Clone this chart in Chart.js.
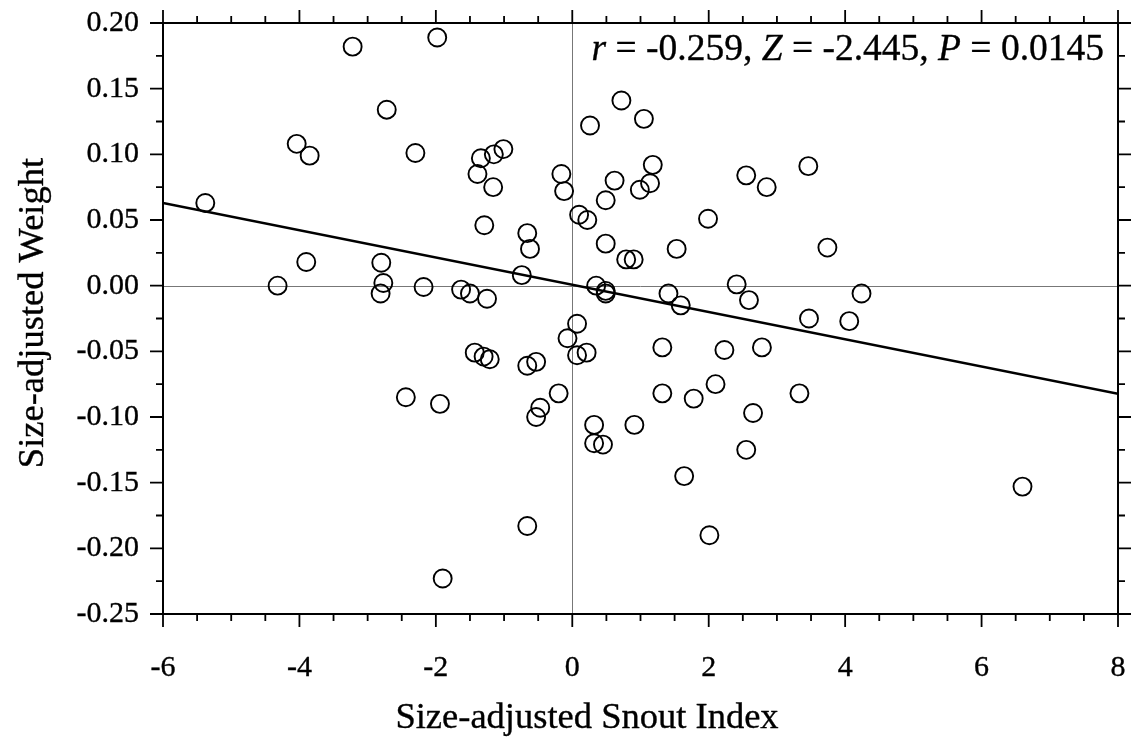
<!DOCTYPE html>
<html><head><meta charset="utf-8">
<script src="https://cdn.jsdelivr.net/npm/chart.js@4.4.1/dist/chart.umd.min.js"></script>
<style>html,body{margin:0;padding:0;background:#fff;}canvas{display:block;}</style>
</head><body>
<canvas id="c" width="1133" height="742"></canvas>
<script>
// ---- data ----
const snoutIndex = [
  -5.38, -4.32, -4.04, -3.85, -3.90, -3.22, -2.72, -2.80, -2.77, -2.81,
  -2.30, -2.18, -1.98, -1.63, -1.50, -1.25, -1.34, -1.15, -1.01, -1.39,
  -1.16, -1.29, -0.66, -0.62, -0.74, -0.16, -0.12, -2.44, -1.94, -1.90,
  -1.43, -1.30, -1.21, -0.66, -0.66, -0.53, -0.20, -0.47, -0.53, -0.07,
  0.07, 0.07, 0.21, 0.35, 0.49, 0.49, 1.41, 1.59, 2.41, 2.59,
  4.24, 3.47, 4.06, 1.32, 2.23, 2.78, 1.32, 1.78, 2.10, 3.33,
  2.65, 0.32, 0.91, 0.32, 0.45, 2.55, 1.64, 6.60, 2.01, 0.72,
  0.26, 1.05, 1.18, 0.62, 1.14, 0.99, 0.49, 0.10, 0.22, 1.99,
  0.49, 0.79, 0.90, 1.53, 2.55, 2.85, 3.46, 3.74
];
const weight = [
  0.063, 0.000, 0.108, 0.099, 0.018, 0.182, 0.134, 0.0175, 0.002, -0.006,
  0.101, -0.001, 0.189, -0.003, -0.006, -0.010, 0.097, 0.100, 0.104, 0.085,
  0.075, 0.046, 0.040, 0.028, 0.008, 0.085, 0.072, -0.085, -0.090, -0.223,
  -0.051, -0.054, -0.056, -0.183, -0.061, -0.058, -0.082, -0.093, -0.100, -0.040,
  -0.029, -0.053, -0.051, 0.000, -0.004, -0.006, -0.006, -0.015, 0.001, -0.011,
  -0.006, -0.025, -0.027, -0.047, -0.049, -0.047, -0.082, -0.086, -0.075, -0.082,
  -0.097, -0.106, -0.106, -0.120, -0.121, -0.125, -0.145, -0.153, -0.190, 0.141,
  0.122, 0.127, 0.092, 0.080, 0.078, 0.073, 0.065, 0.054, 0.050, 0.051,
  0.032, 0.020, 0.020, 0.028, 0.084, 0.075, 0.091, 0.029
];
const fitX = [-6, 8];
const fitY = [0.0629, -0.0823];
const xTickValues = [-6, -4, -2, 0, 2, 4, 6, 8];
const xTickLabels = ['-6', '-4', '-2', '0', '2', '4', '6', '8'];
const yTickValues = [-0.25, -0.20, -0.15, -0.10, -0.05, 0, 0.05, 0.10, 0.15, 0.20];
const yTickLabels = ['-0.25', '-0.20', '-0.15', '-0.10', '-0.05', '0.00', '0.05', '0.10', '0.15', '0.20'];
const xMinorStep = 0.5;
const yMinorStep = 0.025;
const xTitle = 'Size-adjusted Snout Index';
const yTitle = 'Size-adjusted Weight';
const statParts = [['r', true], [' = -0.259, ', false], ['Z', true], [' = -2.445, ', false], ['P', true], [' = 0.0145', false]];

// ---- drawing ----
const FONT = '"Liberation Serif", "Times New Roman", serif';
const TEXT_STROKE = 0.35;

const framePlugin = {
  id: 'frame',
  beforeDatasetsDraw(chart) {
    const {ctx, chartArea: a, scales: {x, y}} = chart;
    ctx.save();
    ctx.strokeStyle = '#777';
    ctx.lineWidth = 1;
    const x0 = Math.round(x.getPixelForValue(0)) + 0.5;
    const y0 = Math.round(y.getPixelForValue(0)) + 0.5;
    ctx.beginPath();
    ctx.moveTo(x0, a.top); ctx.lineTo(x0, a.bottom);
    ctx.moveTo(a.left, y0); ctx.lineTo(a.right, y0);
    ctx.stroke();
    ctx.restore();
  },
  afterDraw(chart) {
    const {ctx, chartArea: a, scales: {x, y}} = chart;
    ctx.save();
    ctx.strokeStyle = '#000';
    ctx.lineWidth = 2;
    ctx.strokeRect(a.left, a.top, a.right - a.left, a.bottom - a.top);
    const MAJ = 13, MIN = 7;
    ctx.lineWidth = 1.8;
    ctx.beginPath();
    const nx = Math.round((x.max - x.min) / xMinorStep);
    for (let i = 0; i <= nx; i++) {
      const v = x.min + i * xMinorStep;
      const major = xTickValues.some(t => Math.abs(t - v) < 1e-9);
      const len = major ? MAJ : MIN;
      const px = x.getPixelForValue(v);
      ctx.moveTo(px, a.bottom); ctx.lineTo(px, a.bottom + len);
      ctx.moveTo(px, a.top); ctx.lineTo(px, a.top - len);
    }
    const ny = Math.round((y.max - y.min) / yMinorStep);
    for (let i = 0; i <= ny; i++) {
      const v = y.min + i * yMinorStep;
      const major = yTickValues.some(t => Math.abs(t - v) < 1e-9);
      const len = major ? MAJ : MIN;
      const py = y.getPixelForValue(v);
      ctx.moveTo(a.left, py); ctx.lineTo(a.left - len, py);
      ctx.moveTo(a.right, py); ctx.lineTo(a.right + len, py);
    }
    ctx.stroke();

    const drawText = (t, px, py) => {
      ctx.fillText(t, px, py);
      ctx.strokeText(t, px, py);
    };

    // axis titles
    ctx.fillStyle = '#000';
    ctx.strokeStyle = '#000';
    ctx.lineWidth = TEXT_STROKE;
    ctx.lineJoin = 'round';
    ctx.font = '36.5px ' + FONT;
    ctx.textAlign = 'center';
    ctx.textBaseline = 'alphabetic';
    drawText(xTitle, 587, 728);
    ctx.save();
    ctx.translate(43, 313);
    ctx.rotate(-Math.PI / 2);
    drawText(yTitle, 0, 0);
    ctx.restore();

    // statistics annotation, right-aligned
    const fontFor = it => (it ? 'italic ' : '') + '37.5px ' + FONT;
    let total = 0;
    for (const [t, it] of statParts) { ctx.font = fontFor(it); total += ctx.measureText(t).width; }
    let cx = 1104 - total;
    ctx.textAlign = 'left';
    for (const [t, it] of statParts) {
      ctx.font = fontFor(it);
      drawText(t, cx, 60);
      cx += ctx.measureText(t).width;
    }
    ctx.restore();
  }
};

const points = snoutIndex.map((v, i) => ({x: v, y: weight[i]}));
const fitLine = fitX.map((v, i) => ({x: v, y: fitY[i]}));

new Chart(document.getElementById('c'), {
  type: 'scatter',
  data: {
    datasets: [
      {
        type: 'line',
        data: fitLine,
        borderColor: '#000',
        borderWidth: 2.5,
        pointRadius: 0,
        fill: false,
        order: 2
      },
      {
        data: points,
        pointStyle: 'circle',
        pointRadius: 9,
        pointBorderWidth: 1.9,
        borderColor: '#000',
        backgroundColor: 'rgba(0,0,0,0)',
        order: 1
      }
    ]
  },
  options: {
    responsive: false,
    animation: false,
    devicePixelRatio: 1,
    layout: {padding: {top: 23, right: 15, left: 0, bottom: 0}},
    plugins: {legend: {display: false}, tooltip: {enabled: false}},
    scales: {
      x: {
        type: 'linear',
        min: -6, max: 8,
        afterBuildTicks: s => { s.ticks = xTickValues.map(v => ({value: v})); },
        afterFit: s => { s.height = 128; s.paddingLeft = 0; s.paddingRight = 0; s.paddingTop = 0; s.paddingBottom = 0; },
        grid: {display: false, drawTicks: false},
        border: {display: false},
        ticks: {
          callback: (v, i) => xTickLabels[i],
          font: {family: FONT, size: 30},
          color: '#000',
          textStrokeColor: '#000',
          textStrokeWidth: TEXT_STROKE,
          padding: 36,
          maxRotation: 0,
          autoSkip: false
        }
      },
      y: {
        type: 'linear',
        min: -0.25, max: 0.2,
        afterBuildTicks: s => { s.ticks = yTickValues.map(v => ({value: v})); },
        afterFit: s => { s.width = 163; s.paddingLeft = 0; s.paddingRight = 0; s.paddingTop = 0; s.paddingBottom = 0; },
        grid: {display: false, drawTicks: false},
        border: {display: false},
        ticks: {
          callback: (v, i) => yTickLabels[i],
          font: {family: FONT, size: 30},
          color: '#000',
          textStrokeColor: '#000',
          textStrokeWidth: TEXT_STROKE,
          padding: 24,
          autoSkip: false
        }
      }
    }
  },
  plugins: [framePlugin]
});
</script>
</body></html>
